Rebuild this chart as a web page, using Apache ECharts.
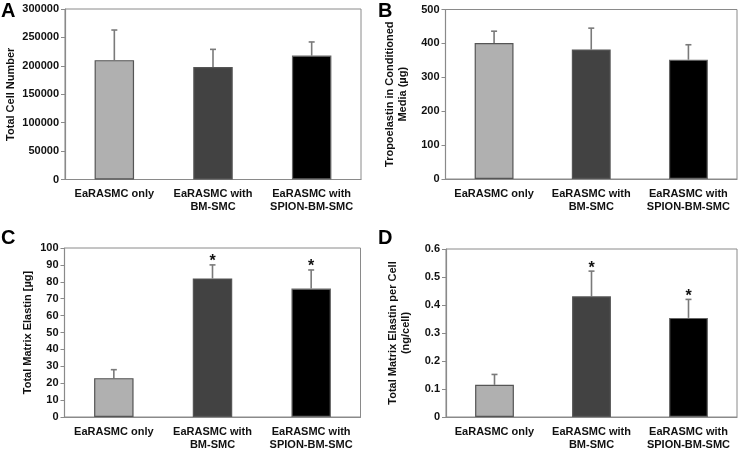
<!DOCTYPE html>
<html><head><meta charset="utf-8">
<script src="https://cdn.jsdelivr.net/npm/echarts@6/dist/echarts.min.js"></script>
<style>html,body{margin:0;padding:0;background:#fff}#c{width:738px;height:451px}</style>
</head><body><div id="c"></div>
<script>
// ---- data ----
const categories = ['EaRASMC only', 'EaRASMC with\nBM-SMC', 'EaRASMC with\nSPION-BM-SMC'];
const cellNumber = [210000, 198000, 218000];
const cellNumberErr = [53000, 31000, 24000];
const tropoelastin = [401, 382, 352];
const tropoelastinErr = [35, 63, 44];
const matrixElastin = [23, 82, 76];
const matrixElastinErr = [5, 8, 11];
const elastinPerCell = [0.115, 0.431, 0.354];
const elastinPerCellErr = [0.037, 0.09, 0.066];
const sigA = [false, false, false];
const sigB = [false, false, false];
const sigC = [false, true, true];
const sigD = [false, true, true];
const yTicksA = [0, 300000, 50000];
const yTicksB = [0, 500, 100];
const yTicksC = [0, 100, 10];
const yTicksD = [0, 0.6, 0.1];
const panelLetters = ['A', 'B', 'C', 'D'];
const yNames = ['Total Cell Number', 'Tropoelastin in Conditioned\nMedia (µg)', 'Total Matrix Elastin [µg]', 'Total Matrix Elastin per Cell\n(ng/cell)'];

// ---- style ----
const FONT = "'Liberation Sans', Arial, sans-serif";
const barColors = ['#b0b0b0', '#424242', '#000000'];
const barBorders = ['#555555', '#555555', '#666666'];
const axisGrey = '#8a8a8a';

const grids = [
  {left: 65, top: 9, width: 296, height: 170.5},
  {left: 445.5, top: 9.5, width: 291.5, height: 169.5},
  {left: 64.5, top: 248, width: 296, height: 173},
  {left: 446, top: 249, width: 291, height: 171.5}
];
const nameGaps = [48, 36, 30, 34];

const panels = [
  [cellNumber, cellNumberErr, sigA, yTicksA],
  [tropoelastin, tropoelastinErr, sigB, yTicksB],
  [matrixElastin, matrixElastinErr, sigC, yTicksC],
  [elastinPerCell, elastinPerCellErr, sigD, yTicksD]
];

function errRender(sig) {
  return function (params, api) {
    const i = api.value(0);
    const v = api.value(1);
    const e = api.value(2);
    const p0 = api.coord([i, v]);
    const p1 = api.coord([i, v + e]);
    const st = {stroke: '#7a7a7a', lineWidth: 1.6};
    const children = [
      {type: 'line', shape: {x1: p0[0], y1: p0[1], x2: p1[0], y2: p1[1]}, style: st},
      {type: 'line', shape: {x1: p1[0] - 3, y1: p1[1], x2: p1[0] + 3, y2: p1[1]}, style: st}
    ];
    if (sig[i]) {
      children.push({type: 'text', x: p1[0], y: p1[1] - 3,
        style: {text: '*', fill: '#111', font: 'bold 16px ' + FONT, align: 'center', verticalAlign: 'middle'}});
    }
    return {type: 'group', children: children};
  };
}

const option = {
  animation: false,
  backgroundColor: '#fff',
  grid: grids.map(g => Object.assign({show: true, borderColor: axisGrey, borderWidth: 1, backgroundColor: 'transparent'}, g)),
  xAxis: grids.map((g, k) => ({
    type: 'category', gridIndex: k, data: categories,
    axisLine: {lineStyle: {color: axisGrey, width: 1.2}},
    axisTick: {length: 5, lineStyle: {color: axisGrey}},
    axisLabel: {margin: 8, color: '#111', fontFamily: FONT, fontWeight: 'bold', fontSize: 11, lineHeight: 13, interval: 0}
  })),
  yAxis: panels.map((p, k) => ({
    type: 'value', gridIndex: k, min: p[3][0], max: p[3][1], interval: p[3][2],
    name: yNames[k], nameLocation: 'middle', nameGap: nameGaps[k], nameRotate: 90,
    nameTextStyle: {color: '#111', fontFamily: FONT, fontWeight: 'bold', fontSize: 11, lineHeight: 13},
    splitLine: {show: false},
    axisLine: {show: true, lineStyle: {color: axisGrey, width: 1.2}},
    axisTick: {show: true, length: 4, lineStyle: {color: axisGrey}},
    axisLabel: {margin: 6, color: '#111', fontFamily: FONT, fontWeight: 'bold', fontSize: 11,
      formatter: v => String(Math.round(v * 1000) / 1000)}
  })),
  series: [].concat(...panels.map((p, k) => [
    {
      type: 'bar', xAxisIndex: k, yAxisIndex: k, barWidth: '40%',
      data: p[0].map((v, i) => ({value: v, itemStyle: {color: barColors[i], borderColor: barBorders[i], borderWidth: 1.2}}))
    },
    {
      type: 'custom', xAxisIndex: k, yAxisIndex: k, z: 1,
      renderItem: errRender(p[2]),
      data: p[0].map((v, i) => [i, v, p[1][i]])
    }
  ])),
  graphic: [
    {type: 'text', left: 1, top: 1, style: {text: panelLetters[0], font: 'bold 20px ' + FONT, fill: '#000'}},
    {type: 'text', left: 378, top: 1, style: {text: panelLetters[1], font: 'bold 20px ' + FONT, fill: '#000'}},
    {type: 'text', left: 1, top: 228, style: {text: panelLetters[2], font: 'bold 20px ' + FONT, fill: '#000'}},
    {type: 'text', left: 378, top: 228, style: {text: panelLetters[3], font: 'bold 20px ' + FONT, fill: '#000'}}
  ]
};

const chart = echarts.init(document.getElementById('c'), null, {renderer: 'canvas'});
chart.setOption(option);
</script>
</body></html>
